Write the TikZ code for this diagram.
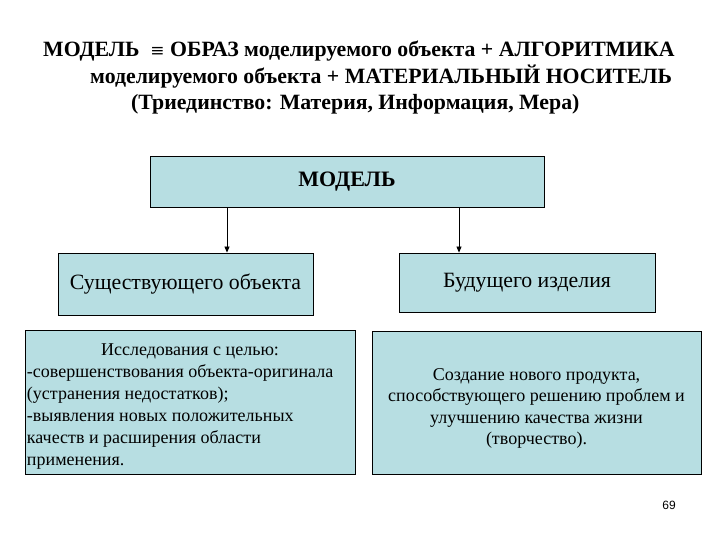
\documentclass[tikz,border=0pt]{standalone}
\usepackage{fontspec}
\setmainfont{Liberation Serif}
\newfontfamily\symfont{DejaVu Serif}
\setsansfont{Liberation Sans}
\usetikzlibrary{arrows.meta}
\definecolor{boxblue}{RGB}{183,222,226}
\tikzset{
  box/.style={draw=black, fill=boxblue, line width=0.8bp, inner sep=0pt},
  titleline/.style={anchor=west, inner sep=0pt, font=\bfseries\fontsize{21.8bp}{24bp}\selectfont},
  arr/.style={-{Triangle[length=6bp,width=5bp]}, line width=0.8bp}
}
\begin{document}
\begin{tikzpicture}[x=1bp, y=-1bp]
  \useasboundingbox (0,0) rectangle (720,540);
  % title
  \node [titleline] (title1) at (43,51) {МОДЕЛЬ \ {\symfont\mdseries\fontsize{17bp}{20bp}\selectfont ≡} ОБРАЗ моделируемого объекта + АЛГОРИТМИКА};
  \node [titleline] (title2) at (90,77) {моделируемого объекта + МАТЕРИАЛЬНЫЙ НОСИТЕЛЬ};
  \node [titleline] (title3) at (131,104) {(Триединство: Материя, Информация, Мера)};
  % boxes
  \node [box, minimum width=394bp, minimum height=51bp, font=\bfseries\fontsize{22bp}{25bp}\selectfont] (model) at (347,181.5) {МОДЕЛЬ};
  \node [box, minimum width=255bp, minimum height=62bp, font=\fontsize{21.8bp}{25bp}\selectfont] (exist) at (185.5,284) {Существующего объекта};
  \node [box, minimum width=256bp, minimum height=59bp, font=\fontsize{21.8bp}{25bp}\selectfont] (future) at (527,282.5) {Будущего изделия};
  \node [box, minimum width=330bp, minimum height=144bp, align=left, font=\fontsize{18bp}{22bp}\selectfont] (goals) at (190,402)
    {\rule{0pt}{21bp}\makebox[326bp][c]{Исследования с целью:}\\
     -совершенствования объекта-оригинала\\
     (устранения недостатков);\\
     -выявления новых положительных\\
     качеств и расширения области\\
     применения.};
  \node [box, minimum width=329bp, minimum height=143bp, align=center, font=\fontsize{18bp}{21.2bp}\selectfont] (create) at (536.5,402.5)
    {\rule{0pt}{24bp}Создание нового продукта,\\ способствующего решению проблем и\\ улучшению качества жизни\\ (творчество).};
  \node [font=\sffamily\fontsize{12bp}{14bp}\selectfont] (page) at (669,505) {69};
  % arrows
  \coordinate (a1) at (227,0);
  \coordinate (a2) at (459,0);
  \draw [arr] (a1 |- model.south) -- (a1 |- exist.north);
  \draw [arr] (a2 |- model.south) -- (a2 |- future.north);
\end{tikzpicture}
\end{document}
